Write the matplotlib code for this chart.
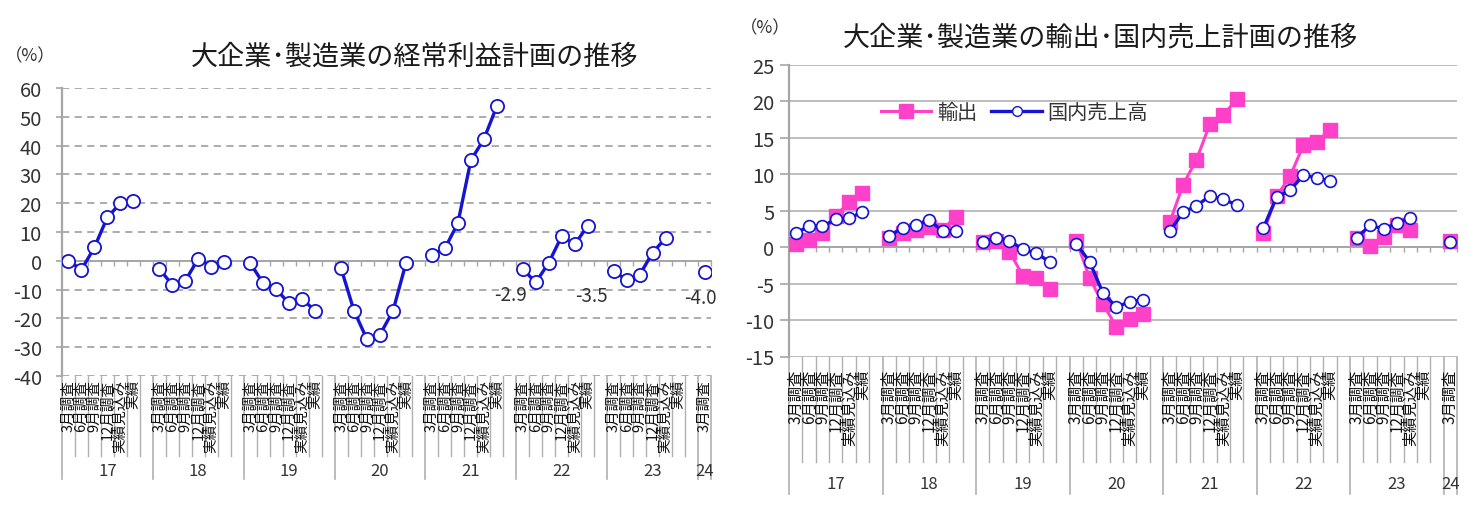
import numpy as np
import matplotlib
matplotlib.use("Agg")
import matplotlib.pyplot as plt
from matplotlib.transforms import blended_transform_factory

plt.rcParams['font.family'] = ['Noto Sans CJK JP', 'DejaVu Sans']

# ---------------- data ----------------
years = ['17', '18', '19', '20', '21', '22', '23', '24']
survey_labels = ['3月調査', '6月調査', '9月調査', '12月調査', '実績見込み', '実績']

# 経常利益計画 (%), one list per fiscal year
profit = [
    [0.0, -3.1, 4.7, 15.2, 19.9, 20.9],
    [-2.8, -8.4, -6.9, 0.7, -2.0, -0.5],
    [-0.8, -7.8, -9.9, -14.8, -13.3, -17.3],
    [-2.6, -17.4, -27.3, -25.6, -17.4, -0.8],
    [2.0, 4.3, 13.1, 34.9, 42.2, 53.7],
    [-2.9, -7.5, -0.7, 8.6, 5.7, 12.1],
    [-3.5, -6.7, -4.9, 2.8, 7.9],
    [-4.0],
]
profit_labels = ['-2.9', '-3.5', '-4.0']          # data labels shown
profit_label_years = ['22', '23', '24']            # first survey of these years

# 輸出 (%)
export = [
    [0.5, 1.0, 1.9, 4.3, 6.2, 7.5],
    [1.2, 2.0, 2.4, 2.8, 2.4, 4.2],
    [0.7, 0.9, -0.6, -3.9, -4.2, -5.8],
    [0.9, -4.2, -7.8, -10.9, -9.9, -9.1],
    [3.4, 8.6, 12.0, 16.9, 18.1, 20.3],
    [2.0, 7.0, 9.7, 14.0, 14.4, 16.1],
    [1.3, 0.2, 1.4, 3.1, 2.3],
    [0.9],
]
# 国内売上高 (%)
domestic = [
    [1.9, 2.9, 2.9, 3.8, 4.0, 4.8],
    [1.5, 2.7, 3.0, 3.7, 2.2, 2.2],
    [0.7, 1.3, 0.9, -0.3, -0.8, -2.0],
    [0.5, -2.0, -6.3, -8.2, -7.5, -7.2],
    [2.2, 4.8, 5.7, 7.0, 6.6, 5.8],
    [2.6, 6.9, 7.8, 9.9, 9.5, 9.1],
    [1.3, 3.0, 2.5, 3.3, 4.0],
    [0.7],
]

# ---------------- layout helpers ----------------
SLOTS = 7                                    # categories per year block
n_slots = SLOTS * (len(years) - 1) + 1       # last year has a single slot
BLUE = '#1414d2'
PINK = '#ff40c8'
GRAY = '#a6a6a6'
TXT = '#333333'

W, H = 1478, 510
fig = plt.figure(figsize=(W / 100, H / 100), dpi=100)


def slot_x(g, s):
    return g * SLOTS + s + 0.5


def draw_category_axis(ax, ax_h_px, label_gap_px, line_px, sep_px, year_px, fs):
    tr = blended_transform_factory(ax.transData, ax.transAxes)
    for g, yr in enumerate(years):
        n = len(survey_labels) if g < len(years) - 1 else 1
        for s in range(n):
            ax.text(slot_x(g, s), -label_gap_px / ax_h_px, survey_labels[s],
                    transform=tr, rotation=90, ha='center', va='top',
                    fontsize=fs, color='#111111', linespacing=1.0)
        width = SLOTS if g < len(years) - 1 else 1
        ax.text(g * SLOTS + width / 2, -year_px / ax_h_px, yr, transform=tr,
                ha='center', va='center', fontsize=12, color=TXT)
    for i in range(n_slots + 1):
        is_sep = (i % SLOTS == 0) or i == n_slots
        L = sep_px if is_sep else line_px
        ax.plot([i, i], [0, -L / ax_h_px], transform=tr, clip_on=False,
                color='#b0b0b0', lw=1.2 if is_sep else 1.0)


def plot_series(ax, series, **kw):
    for g, vals in enumerate(series):
        xs = [slot_x(g, s) for s in range(len(vals))]
        ax.plot(xs, vals, **kw)


def setup_axis(ax, ylim, yticks, grid_ls, grid_color, ticklen, pad, fs):
    ax.set_xlim(0, n_slots)
    ax.set_ylim(*ylim)
    ax.set_yticks(yticks)
    ax.set_yticklabels([str(v) for v in yticks], fontsize=fs, color=TXT)
    ax.tick_params(axis='y', direction='out', length=ticklen, width=1.2,
                   color=GRAY, pad=pad)
    for sp in ['top', 'right']:
        ax.spines[sp].set_visible(False)
    ax.spines['left'].set_color(GRAY)
    ax.spines['left'].set_linewidth(1.6)
    ax.spines['bottom'].set_position(('data', 0))
    ax.spines['bottom'].set_color(GRAY)
    ax.spines['bottom'].set_linewidth(1.4)
    ax.set_xticks(np.arange(0, n_slots + 1))
    ax.set_xticklabels([])
    ax.tick_params(axis='x', direction='out', length=3.5, width=1.0, color=GRAY)
    ax.yaxis.grid(True, linestyle=grid_ls, color=grid_color, lw=1.3)
    ax.set_axisbelow(True)


# ---------------- left chart ----------------
axL_px = (62, 89, 711, 377)   # left, top, right, bottom
axL = fig.add_axes([axL_px[0] / W, 1 - axL_px[3] / H,
                    (axL_px[2] - axL_px[0]) / W, (axL_px[3] - axL_px[1]) / H])
setup_axis(axL, (-40, 60), list(range(-40, 61, 10)), (0, (4, 3)), GRAY,
           4.5, 10, 14.5)
hL = axL_px[3] - axL_px[1]
draw_category_axis(axL, hL, 3, 80, 103, 95, 10.5)

plot_series(axL, profit, color=BLUE, lw=2.4, marker='o', ms=9.5,
            mfc='white', mec=BLUE, mew=1.3, zorder=3)

offsets = [(-9, -18), (-16, -18), (-3, -18)]
for lab, yr, off in zip(profit_labels, profit_label_years, offsets):
    g = years.index(yr)
    axL.annotate(lab, (slot_x(g, 0), profit[g][0]), xytext=off,
                 textcoords='offset points', ha='center', va='center',
                 fontsize=13.5, color=TXT)

fig.text(415 / W, 1 - 57 / H, '大企業･製造業の経常利益計画の推移',
         ha='center', va='center', fontsize=19.5, color='#1a1a1a')
fig.text(30 / W, 1 - 56 / H, '（%）', ha='center', va='center',
         fontsize=12.5, color=TXT)

# ---------------- right chart ----------------
axR_px = (789, 66, 1457, 357.5)
axR = fig.add_axes([axR_px[0] / W, 1 - axR_px[3] / H,
                    (axR_px[2] - axR_px[0]) / W, (axR_px[3] - axR_px[1]) / H])
setup_axis(axR, (-15, 25), list(range(-15, 26, 5)), '-', '#b8b8b8',
           6.5, 4, 14.5)
hR = axR_px[3] - axR_px[1]
draw_category_axis(axR, hR, 12, 105, 137, 127, 11)

plot_series(axR, export, color=PINK, lw=2.2, marker='s', ms=10.5,
            mfc=PINK, mec=PINK, zorder=3)
plot_series(axR, domestic, color=BLUE, lw=2.4, marker='o', ms=8.5,
            mfc='white', mec=BLUE, mew=1.2, zorder=4)

h1, = axR.plot([], [], color=PINK, lw=2.2, marker='s', ms=10.5, mfc=PINK, mec=PINK)
h2, = axR.plot([], [], color=BLUE, lw=2.4, marker='o', ms=7, mfc='white', mec=BLUE)
axR.legend([h1, h2], ['輸出', '国内売上高'], loc='center left',
           bbox_to_anchor=(0.11, 0.837), ncol=2, frameon=False,
           fontsize=14.5, handlelength=2.5, handletextpad=0.3,
           columnspacing=0.7, labelcolor=TXT)

fig.text(1100 / W, 1 - 38 / H, '大企業･製造業の輸出･国内売上計画の推移',
         ha='center', va='center', fontsize=19.5, color='#1a1a1a')
fig.text(765 / W, 1 - 28 / H, '（%）', ha='center', va='center',
         fontsize=12.5, color=TXT)

fig.savefig('out.png', dpi=100)
